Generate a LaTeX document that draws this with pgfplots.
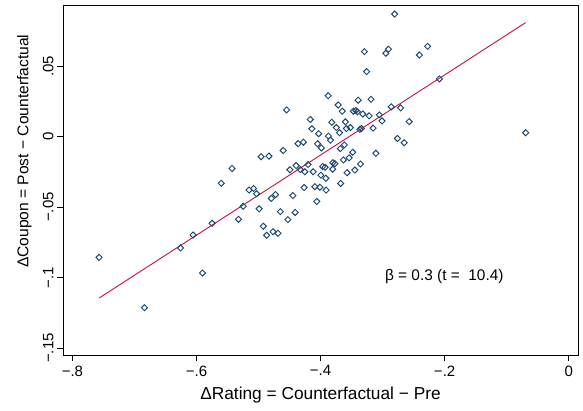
\documentclass[border=0pt]{standalone}
\usepackage{fontspec}
\setmainfont{Liberation Sans}
\usepackage{pgfplots}
\pgfplotsset{compat=1.18}
\definecolor{stnavy}{RGB}{26,71,111}
\definecolor{stred}{RGB}{200,16,60}
\begin{document}
\begin{tikzpicture}
\begin{axis}[
  scale only axis,
  width=515pt, height=350pt,
  xmin=-0.8152, xmax=0.0150,
  ymin=-0.155, ymax=0.0935,
  axis line style={black, line width=0.8pt},
  tick pos=left,
  tick align=outside,
  major tick length=6pt,
  tick style={black, line width=0.8pt},
  xtick={-0.8,-0.6,-0.4,-0.2,0},
  xticklabels={−.8,−.6,−.4,−.2,0},
  ytick={-0.15,-0.1,-0.05,0,0.05},
  yticklabels={−.15,−.1,−.05,0,.05},
  ticklabel style={font=\fontsize{15}{17}\selectfont},
  yticklabel style={rotate=90, anchor=south},
  xticklabel style={yshift=-1pt},
  xlabel={ΔRating = Counterfactual − Pre},
  ylabel={ΔCoupon = Post − Counterfactual},
  xlabel style={font=\fontsize{17.3}{20}\selectfont, at={(axis description cs:0.5,-0.0817)}, anchor=north},
  ylabel style={font=\fontsize{15.6}{18}\selectfont, at={(axis description cs:-0.054,0.582)}, anchor=south},
  clip=false,
]
\addplot[only marks, mark=square, mark size=2.15pt,
  mark options={rotate=45, draw=stnavy, line width=0.95pt, fill=none}]
  table {
x y
-0.7571 -0.0857
-0.6839 -0.1214
-0.6258 -0.0790
-0.6055 -0.0698
-0.5903 -0.0968
-0.5748 -0.0615
-0.5600 -0.0331
-0.5427 -0.0226
-0.5323 -0.0587
-0.5248 -0.0494
-0.5153 -0.0379
-0.5081 -0.0368
-0.5032 -0.0405
-0.4990 -0.0512
-0.4923 -0.0636
-0.4869 -0.0700
-0.4794 -0.0438
-0.4726 -0.0411
-0.4765 -0.0675
-0.4687 -0.0686
-0.4648 -0.0532
-0.4527 -0.0589
-0.4447 -0.0418
-0.4410 -0.0538
-0.4265 -0.0361
-0.4092 -0.0355
-0.4061 -0.0460
-0.4011 -0.0359
-0.3911 -0.0379
-0.4548 0.0190
-0.4165 0.0122
-0.4140 0.0056
-0.4031 0.0021
-0.4363 -0.0049
-0.4277 -0.0039
-0.4048 -0.0050
-0.3987 -0.0080
-0.4603 -0.0098
-0.4958 -0.0142
-0.4832 -0.0138
-0.4494 -0.0235
-0.4394 -0.0205
-0.4326 -0.0233
-0.4253 -0.0249
-0.4202 -0.0197
-0.4119 -0.0249
-0.3965 -0.0212
-0.3927 -0.0217
-0.3995 -0.0273
-0.3915 -0.0295
-0.3877 0.0291
-0.3716 0.0225
-0.3650 0.0181
-0.3394 0.0259
-0.3187 0.0266
-0.3471 0.0181
-0.3431 0.0186
-0.3406 0.0177
-0.3319 0.0161
-0.3218 0.0148
-0.3052 0.0155
-0.2861 0.0212
-0.2710 0.0205
-0.3010 0.0112
-0.2571 0.0107
-0.3819 0.0102
-0.3745 0.0065
-0.3694 0.0028
-0.3600 0.0106
-0.3584 0.0058
-0.3519 0.0065
-0.3366 0.0052
-0.3342 0.0058
-0.3153 0.0061
-0.2761 -0.0013
-0.2652 -0.0043
-0.3874 0.0004
-0.3839 -0.0025
-0.3681 -0.0085
-0.3616 -0.0058
-0.3482 -0.0111
-0.3539 -0.0150
-0.3632 -0.0165
-0.3108 -0.0118
-0.3356 -0.0194
-0.3447 -0.0237
-0.3573 -0.0256
-0.3677 -0.0332
-0.3803 -0.0185
-0.3769 -0.0192
-0.3805 -0.0231
-0.2806 0.0871
-0.3294 0.0604
-0.3258 0.0462
-0.2948 0.0592
-0.2906 0.0621
-0.2406 0.0580
-0.2274 0.0641
-0.2084 0.0410
-0.0694 0.0028
};
\addplot[stred, line width=0.9pt] coordinates {(-0.7571,-0.1146) (-0.0694,0.0810)};
\node[anchor=west, font=\fontsize{15.4}{18}\selectfont, inner sep=0pt] at (axis cs:-0.2963,-0.0996) {β = 0.3 (t =\ \ 10.4)};
\end{axis}
\path (current axis.south west) ++(-63pt,-56pt) rectangle ++(583pt,411pt);
\end{tikzpicture}
\end{document}
